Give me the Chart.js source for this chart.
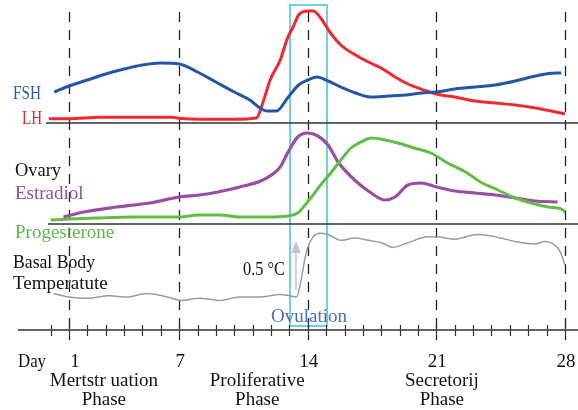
<!DOCTYPE html>
<html>
<head>
<meta charset="utf-8">
<script src="https://cdn.jsdelivr.net/npm/chart.js@4/dist/chart.umd.min.js"></script>
<style>
  html, body { margin: 0; padding: 0; background: #fff; }
  #wrap { width: 578px; height: 410px; position: relative; }
</style>
</head>
<body>
<div id="wrap"><canvas id="cycleChart"></canvas></div>
<script>
// Hormone levels over the cycle (relative units)
const fshDays = [0.2, 1, 2, 3, 4, 5, 6, 7, 8, 9, 10, 10.85, 11.4, 11.8, 12.3, 12.9, 13.5, 14, 14.5, 15.1, 15.8, 16.6, 17.4, 18.4, 19.3, 20.2, 21, 22, 23.1, 24.2, 25.3, 26.4, 27.5, 27.8]
const fshVals = [31, 37, 43, 49, 54, 58, 60, 59, 51, 41, 31, 23, 15, 12, 12, 25, 38, 43, 46, 42, 36, 30, 26, 27, 28, 30, 31, 34, 36, 38, 42, 47, 50, 50]

const lhDays = [-0.1, 1, 2.7, 5, 6.6, 7.1, 8.2, 10, 11.2, 11.55, 11.95, 12.5, 12.9, 13.2, 13.5, 14, 14.3, 14.7, 15.2, 15.8, 16.6, 17.3, 18, 18.75, 19.45, 20.15, 21, 22, 23.1, 24.2, 25.3, 26.4, 27.5, 28]
const lhVals = [4.3, 4.3, 5.7, 5.7, 5.7, 4.5, 3.8, 3.8, 5, 20, 43, 63, 85, 96, 108, 112, 112, 105, 91, 78, 68, 61, 55, 46, 39, 34, 29, 26, 22, 20, 18, 15, 11, 9]

const e2Days = [0.7, 1.8, 3.6, 5.4, 7, 8.1, 9.1, 10.3, 11.55, 12.5, 12.9, 13.45, 14, 14.55, 15.1, 15.65, 16.55, 17.45, 18.2, 18.75, 19.45, 20.15, 21, 22, 23.1, 24.2, 25.3, 26.4, 27.6]
const e2Vals = [7, 12, 17, 21, 27, 29, 32, 37, 44, 57, 71, 87, 91, 88, 79, 62, 44, 31, 24, 27, 39, 41, 37, 33, 31, 29, 26, 23, 22]

const progDays = [0, 1, 2.5, 4.5, 7, 8.1, 9.2, 10.3, 11.8, 12.9, 13.45, 13.9, 14.2, 14.7, 15.25, 15.8, 16.35, 16.9, 17.45, 18.2, 18.9, 19.8, 20.7, 21.6, 22.6, 23.4, 24.35, 25.3, 26.15, 27.1, 27.8, 28]
const progVals = [4, 5, 6, 7, 7, 9, 9, 7, 7, 8, 11, 20, 27, 39, 51, 64, 76, 82, 86, 84, 81, 76, 71, 61, 52, 42, 34, 26, 21, 17, 15, 12]

// Basal body temperature (deg C)
const bbtDays = [0.15, 1, 2, 3.2, 4.15, 5.25, 6.35, 7.15, 8.1, 9.2, 10.3, 11.4, 12.5, 13, 13.4, 13.63, 13.85, 14, 14.3, 14.67, 15.1, 15.8, 16.55, 17.3, 18, 18.65, 19.45, 20.55, 21, 22, 23.25, 24.2, 25.3, 26.35, 26.9, 27.45, 27.75, 28]
const bbtVals = [36.43, 36.40, 36.39, 36.41, 36.40, 36.43, 36.40, 36.37, 36.39, 36.37, 36.40, 36.40, 36.42, 36.41, 36.40, 36.54, 36.73, 36.82, 36.91, 36.94, 36.93, 36.88, 36.90, 36.88, 36.86, 36.82, 36.86, 36.91, 36.91, 36.89, 36.93, 36.91, 36.87, 36.85, 36.87, 36.84, 36.78, 36.67]

const markerDays = [1, 7, 14, 21, 28]
const dayTickLabels = ["1", "7", "14", "21", "28"]
const phaseNames = [["Mertstr uation", "Phase"], ["Proliferative", "Phase"], ["Secretorij", "Phase"]]
const phaseCenters = [2.9, 11.25, 21.3]

const pts = (xs, ys) => xs.map((x, i) => ({ x: x, y: ys[i] }))

const SERIF = '"Liberation Serif", "DejaVu Serif", serif'

// static drawing: axes, dashed day markers, ovulation box, labels
const decorPlugin = {
  id: "decor",
  beforeDatasetsDraw(chart) {
    const c = chart.ctx
    const x = chart.scales.x
    const yTop = chart.scales.yTop
    const yMid = chart.scales.yMid
    c.save()

    // ovulation window
    c.strokeStyle = "#6fd0e2"
    c.lineWidth = 2
    c.strokeRect(290, 5, 37, 321)

    // dashed day markers
    c.strokeStyle = "#222"
    c.lineWidth = 1.3
    c.setLineDash([10, 8])
    markerDays.forEach((d) => {
      const px = Math.round(x.getPixelForValue(d)) + 0.5
      c.beginPath()
      c.moveTo(px, 12)
      c.lineTo(px, 340)
      c.stroke()
    })
    c.setLineDash([])

    // panel baselines
    c.strokeStyle = "#333"
    c.lineWidth = 1.5
    const topY = yTop.getPixelForValue(0)
    const midY = yMid.getPixelForValue(0)
    c.beginPath()
    c.moveTo(46, topY); c.lineTo(578, topY)
    c.moveTo(48, midY); c.lineTo(578, midY)
    c.moveTo(18, 330); c.lineTo(578, 330)
    c.stroke()

    // day ticks
    c.lineWidth = 1.2
    c.beginPath()
    for (let d = 0; d <= 28; d++) {
      const px = Math.round(x.getPixelForValue(d)) + 0.5
      c.moveTo(px, 325)
      c.lineTo(px, 336)
    }
    c.stroke()

    // arrow for temperature shift
    c.strokeStyle = "#c4c4cc"
    c.fillStyle = "#c4c4cc"
    c.lineWidth = 1.5
    c.beginPath()
    c.moveTo(296, 290); c.lineTo(296, 250)
    c.stroke()
    c.beginPath()
    c.moveTo(296, 241); c.lineTo(291, 253); c.lineTo(301, 253)
    c.closePath()
    c.fill()
    c.restore()
  },
  afterDatasetsDraw(chart) {
    const c = chart.ctx
    const x = chart.scales.x
    c.save()
    c.textBaseline = "alphabetic"
    const label = (t, px, py, color, w, align) => {
      c.fillStyle = color
      c.textAlign = align || "left"
      c.font = "19px " + SERIF
      if (w) c.fillText(t, px, py, w)
      else c.fillText(t, px, py)
    }
    label("FSH", 13, 99, "#2e5aa8", 28)
    label("LH", 22, 124, "#e8282c", 20)
    label("Ovary", 15, 176, "#111", 46)
    label("Estradiol", 15, 199, "#9050a0", 70)
    label("Progesterone", 15, 238, "#5cb84a", 102)
    label("Basal Body", 13, 268, "#111", 82)
    label("Temperatute", 13, 289, "#111", 97)
    label("0.5 °C", 243, 275, "#111", 42)
    label("Ovulation", 271, 322, "#4e6cc0", 76)
    label("Day", 18, 367, "#111", 28)

    markerDays.forEach((d, i) => {
      label(dayTickLabels[i], x.getPixelForValue(d) + (i === 0 ? 6 : 1), 367, "#111", null, "center")
    })
    phaseNames.forEach((lines, i) => {
      const px = x.getPixelForValue(phaseCenters[i])
      label(lines[0], px, 386, "#111", null, "center")
      label(lines[1], px, 405, "#111", null, "center")
    })
    c.restore()
  }
}

const lineStyle = (color, width) => ({
  borderColor: color,
  borderWidth: width,
  pointRadius: 0,
  fill: false,
  tension: 0.4,
  cubicInterpolationMode: "monotone",
})

new Chart(document.getElementById("cycleChart"), {
  type: "line",
  data: {
    datasets: [
      { label: "Progesterone", data: pts(progDays, progVals), yAxisID: "yMid", ...lineStyle("#62bd47", 3) },
      { label: "Estradiol", data: pts(e2Days, e2Vals), yAxisID: "yMid", ...lineStyle("#9a4ea3", 3.2) },
      { label: "FSH", data: pts(fshDays, fshVals), yAxisID: "yTop", ...lineStyle("#2356a8", 3) },
      { label: "LH", data: pts(lhDays, lhVals), yAxisID: "yTop", ...lineStyle("#ef2a2e", 3) },
      { label: "Basal Body Temperature", data: pts(bbtDays, bbtVals), yAxisID: "yTemp", ...lineStyle("#9c9c9c", 1.5) },
    ],
  },
  options: {
    responsive: true,
    maintainAspectRatio: false,
    animation: false,
    layout: { padding: 0 },
    plugins: {
      legend: { display: false },
      tooltip: { enabled: false },
    },
    scales: {
      x: { type: "linear", min: -2.754, max: 28.71, display: false },
      yTop: { type: "linear", min: -287, max: 123, display: false },
      yMid: { type: "linear", min: -186, max: 224, display: false },
      yTemp: { type: "linear", min: 35.442, max: 38.917, display: false },
    },
  },
  plugins: [decorPlugin],
})
</script>
</body>
</html>
